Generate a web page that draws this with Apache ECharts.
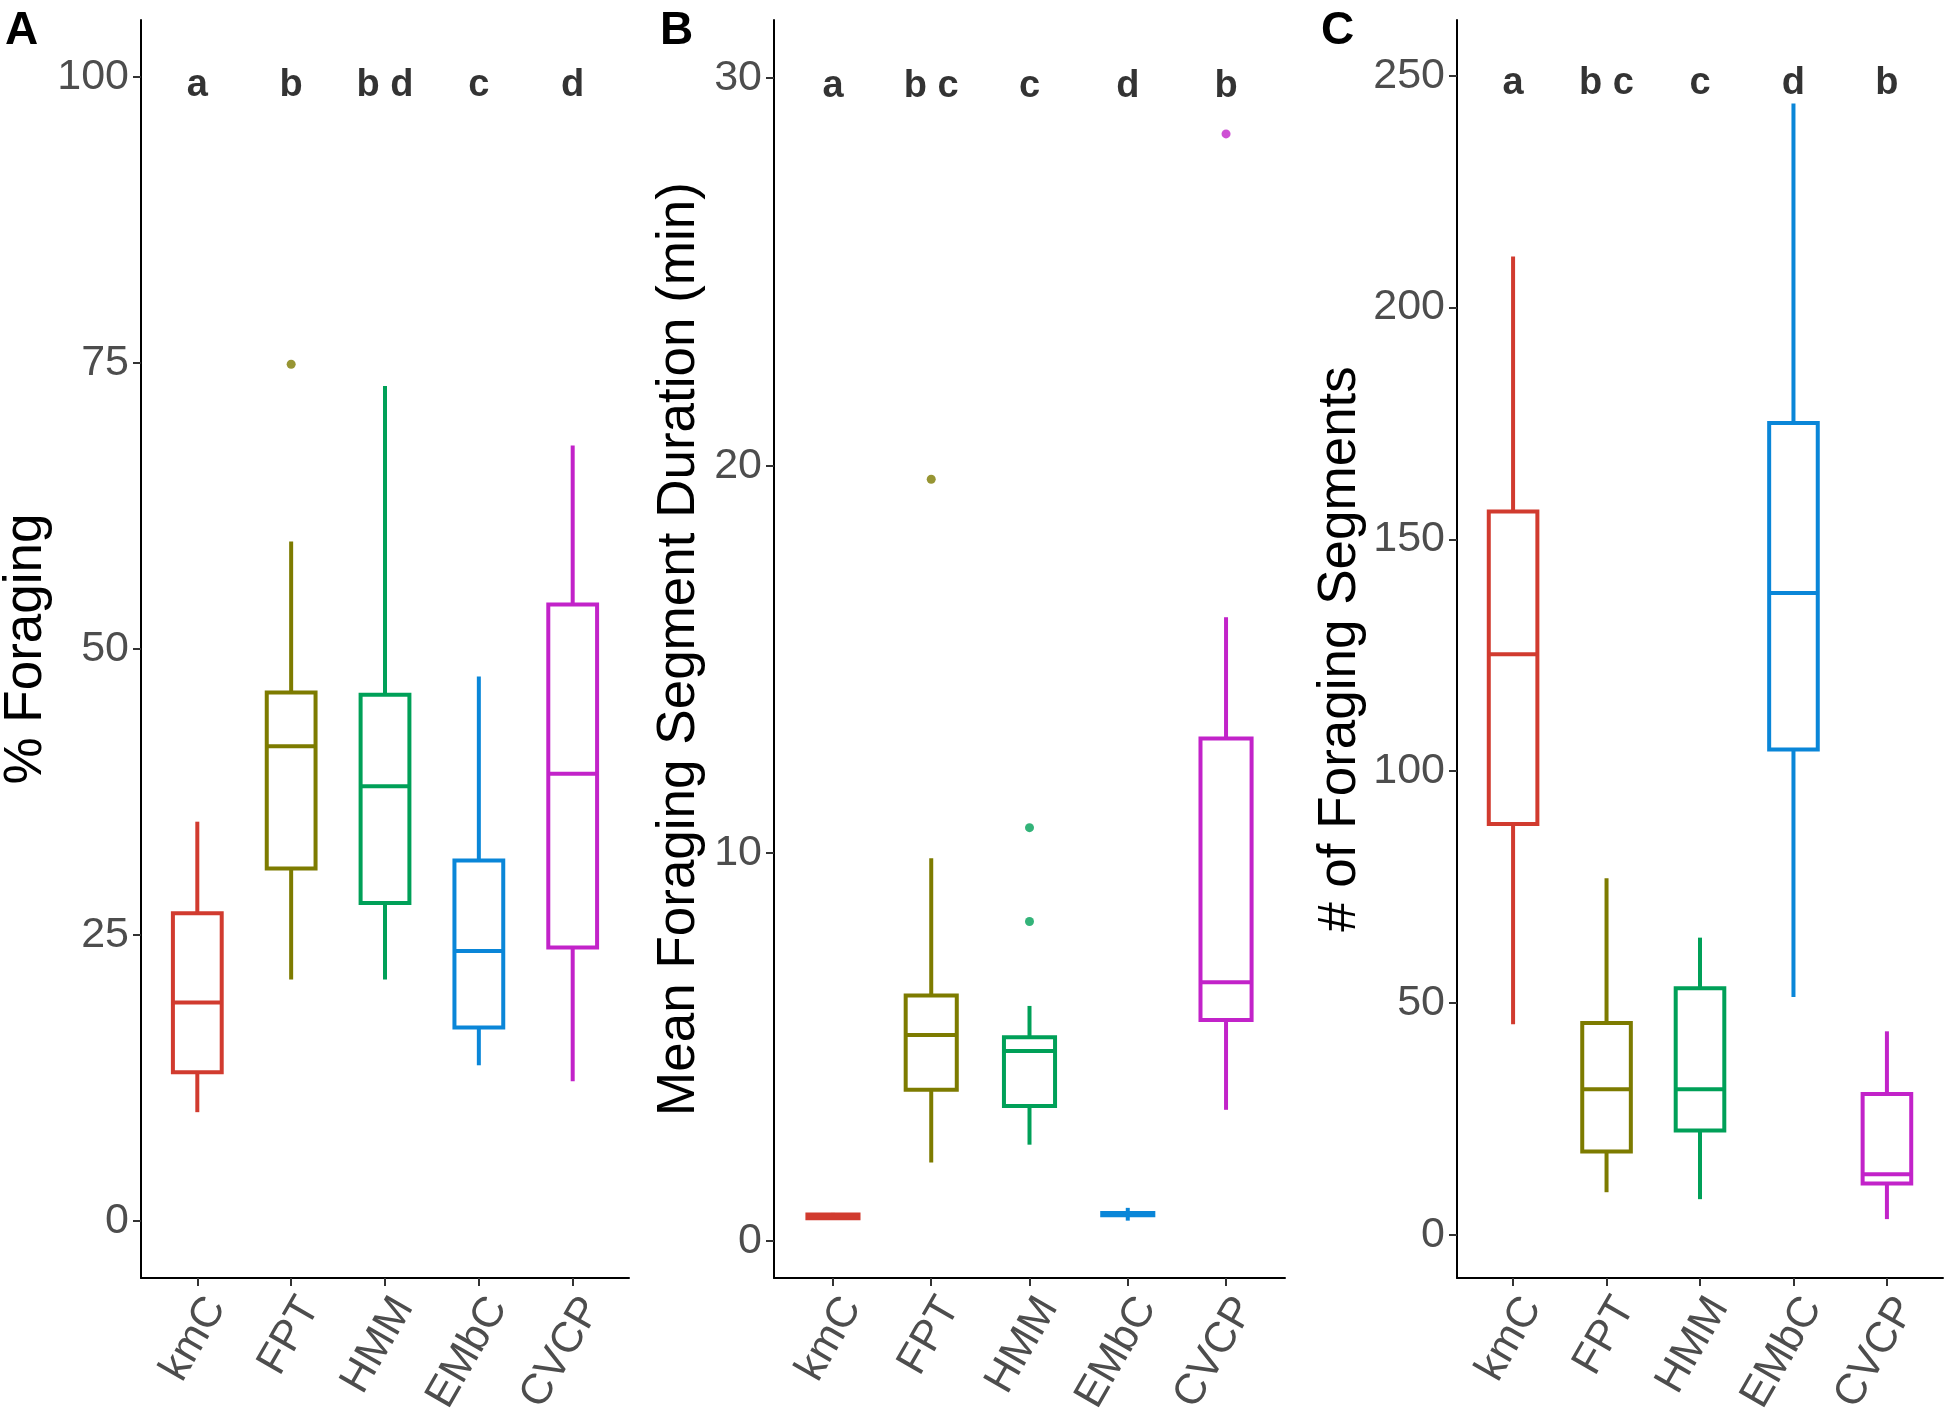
<!DOCTYPE html>
<html>
<head>
<meta charset="utf-8">
<script src="https://cdn.jsdelivr.net/npm/echarts@6/dist/echarts.min.js"></script>
<style>
  html, body { margin: 0; padding: 0; background: #fff; }
  #chart { width: 1946px; height: 1416px; }
</style>
</head>
<body>
<div id="chart"></div>
<script>
// methods on the x axis
var methods = ["kmC", "FPT", "HMM", "EMbC", "CVCP"];
var colors = ["#D13B2F", "#7D7B00", "#00A058", "#0A86D8", "#C223C9"];

// box stats per method: [lower whisker, Q1, median, Q3, upper whisker]
var pctForaging = [
	[9.5, 13.0, 19.1, 26.9, 34.9],
	[21.1, 30.8, 41.5, 46.2, 59.4],
	[21.1, 27.8, 38.0, 46.0, 73.0],
	[13.6, 16.9, 23.6, 31.5, 47.6],
	[12.2, 23.9, 39.1, 53.9, 67.8]
];
var pctForagingOut = [[2, 74.9]];
var pctLetters = ["a", "b", "b d", "c", "d"];

var segDuration = [
	[0.55, 0.58, 0.62, 0.68, 0.72],
	[2.02, 3.90, 5.31, 6.33, 9.87],
	[2.48, 3.48, 4.90, 5.25, 6.06],
	[0.52, 0.66, 0.69, 0.72, 0.85],
	[3.38, 5.70, 6.67, 12.96, 16.09]
];
var segDurationOut = [[2, 19.65], [3, 10.66], [3, 8.24], [5, 28.56]];
var segLetters = ["a", "b c", "c", "d", "b"];

var segCount = [
	[45.4, 88.6, 125.2, 156.0, 211.0],
	[9.2, 18.0, 31.4, 45.7, 76.9],
	[7.7, 22.5, 31.4, 53.2, 64.1],
	[51.3, 104.7, 138.4, 175.1, 244.0],
	[3.4, 11.1, 13.1, 30.4, 43.9]
];
var segCountOut = [];
var countLetters = ["a", "b c", "c", "d", "b"];

var tickA = [0, 25, 50, 75, 100];
var tickB = [0, 10, 20, 30];
var tickC = [0, 50, 100, 150, 200, 250];

var FONT = "Liberation Sans";

// 画箱线图（ggplot风格，没有须线端帽）
function renderBox(params, api) {
	var x = api.value(0);
	var lo = api.coord([x, api.value(1)]);
	var q1 = api.coord([x, api.value(2)]);
	var med = api.coord([x, api.value(3)]);
	var q3 = api.coord([x, api.value(4)]);
	var hi = api.coord([x, api.value(5)]);
	var w = api.size([0.52, 0])[0];
	var col = colors[x - 1];
	var st = { stroke: col, lineWidth: 4, fill: null };
	return {
		type: "group",
		children: [
			{ type: "line", shape: { x1: lo[0], y1: lo[1], x2: q1[0], y2: q1[1] }, style: st },
			{ type: "line", shape: { x1: q3[0], y1: q3[1], x2: hi[0], y2: hi[1] }, style: st },
			{ type: "rect", shape: { x: q3[0] - w / 2, y: q3[1], width: w, height: q1[1] - q3[1] }, style: st },
			{ type: "line", shape: { x1: med[0] - w / 2, y1: med[1], x2: med[0] + w / 2, y2: med[1] }, style: st }
		]
	};
}

function boxData(stats) {
	return stats.map(function(s, i) {
		return [i + 1].concat(s);
	});
}

function xAxisDef(idx) {
	return {
		type: "value", gridIndex: idx, min: 0.4, max: 5.6,
		splitLine: { show: false },
		axisLine: { show: true, onZero: false, lineStyle: { color: "#000", width: 2 } },
		axisTick: { show: true, customValues: [1, 2, 3, 4, 5], length: 8, lineStyle: { color: "#333", width: 2 } },
		axisLabel: {
			customValues: [1, 2, 3, 4, 5],
			formatter: function(v) { return methods[Math.round(v) - 1]; },
			rotate: 60, margin: 12, verticalAlign: "top",
			fontSize: 43, color: "#4D4D4D", fontFamily: FONT
		}
	};
}

function yAxisDef(idx, min, max, ticks, title) {
	return {
		type: "value", gridIndex: idx, min: min, max: max,
		name: title, nameLocation: "middle", nameGap: idx == 0 ? 86 : (idx == 1 ? 68 : 90),
		nameTextStyle: { fontSize: 53, color: "#000", fontFamily: FONT },
		splitLine: { show: false },
		axisLine: { show: true, onZero: false, lineStyle: { color: "#000", width: 2 } },
		axisTick: { show: true, customValues: ticks, length: 8, lineStyle: { color: "#333", width: 2 } },
		axisLabel: { customValues: ticks, margin: 12, fontSize: 43, color: "#4D4D4D", fontFamily: FONT }
	};
}

function letterSeries(idx, y, letters) {
	return {
		type: "scatter", xAxisIndex: idx, yAxisIndex: idx,
		symbolSize: 0, silent: true,
		data: letters.map(function(l, i) { return [i + 1, y]; }),
		label: {
			show: true, position: "inside", offset: [0, 8],
			formatter: function(p) { return letters[p.dataIndex]; },
			fontSize: 38, fontWeight: "bold", color: "#000",
			textBorderWidth: 0, fontFamily: FONT
		}
	};
}

function outlierSeries(idx, pts) {
	return {
		type: "scatter", xAxisIndex: idx, yAxisIndex: idx,
		symbolSize: 9, silent: true,
		data: pts,
		itemStyle: { color: function(p) { return colors[pts[p.dataIndex][0] - 1]; } }
	};
}

function boxSeries(idx, stats) {
	return {
		type: "custom", xAxisIndex: idx, yAxisIndex: idx,
		renderItem: renderBox,
		encode: { x: 0, y: [1, 2, 3, 4, 5] },
		data: boxData(stats),
		silent: true
	};
}

var chart = echarts.init(document.getElementById("chart"), null, { renderer: "canvas" });

var titleStyle = { fontSize: 46, fontWeight: "bold", color: "#000", fontFamily: FONT };

var option = {
	backgroundColor: "#fff",
	animation: false,
	title: [
		{ text: "A", left: 0, top: 3, textStyle: titleStyle },
		{ text: "B", left: 655, top: 3, textStyle: titleStyle },
		{ text: "C", left: 1316, top: 3, textStyle: titleStyle }
	],
	grid: [
		{ left: 141, right: 1317, top: 20, bottom: 138, outerBoundsMode: "none" },
		{ left: 774, right: 661, top: 20, bottom: 138, outerBoundsMode: "none" },
		{ left: 1457, right: 3, top: 20, bottom: 138, outerBoundsMode: "none" }
	],
	xAxis: [xAxisDef(0), xAxisDef(1), xAxisDef(2)],
	yAxis: [
		yAxisDef(0, -5, 105, tickA, "% Foraging"),
		yAxisDef(1, -0.96, 31.5, tickB, "Mean Foraging Segment Duration (min)"),
		yAxisDef(2, -9.3, 262, tickC, "# of Foraging Segments")
	],
	series: [
		boxSeries(0, pctForaging),
		outlierSeries(0, pctForagingOut),
		letterSeries(0, 100, pctLetters),
		boxSeries(1, segDuration),
		outlierSeries(1, segDurationOut),
		letterSeries(1, 30, segLetters),
		boxSeries(2, segCount),
		outlierSeries(2, segCountOut),
		letterSeries(2, 250, countLetters)
	]
};

chart.setOption(option);
</script>
</body>
</html>
